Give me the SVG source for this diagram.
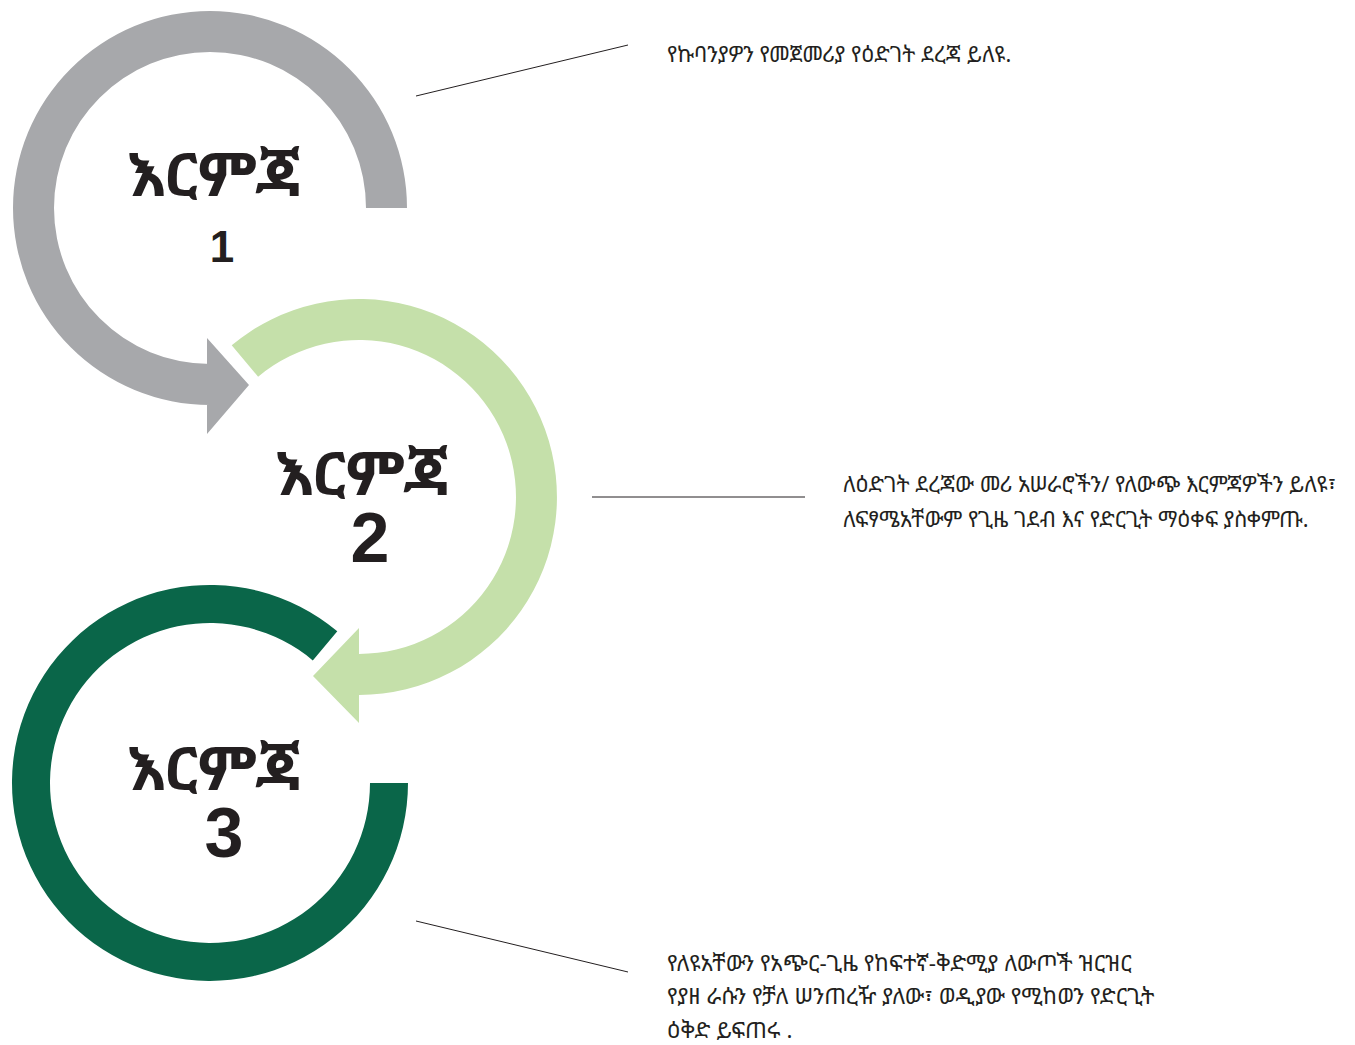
<svg xmlns="http://www.w3.org/2000/svg" width="1355" height="1045" viewBox="0 0 1355 1045">
<style>
.big{font-family:"Noto Sans Ethiopic","Abyssinica SIL","Noto Serif Ethiopic","DejaVu Sans","Noto Sans",sans-serif;font-size:60px;fill:#231f20;text-anchor:middle;font-weight:bold}
.num{font-family:"Liberation Sans","Open Sans",sans-serif;font-size:70px;font-weight:bold}
.desc{font-family:"Noto Sans Ethiopic","Abyssinica SIL","DejaVu Sans","Noto Sans",sans-serif;font-size:21.8px;fill:#231f20}
.d3{font-size:22.4px}
.ln{stroke:#231f20;stroke-width:1;fill:none}
</style>
<rect width="1355" height="1045" fill="#ffffff"/>
<g id="step1">
<path fill="#a7a8ab" d="M 407 208 A 197 197 0 1 0 210 405 L 207 405 L 207 434 L 249 385 L 207 338 L 207 364 L 210 364 A 156 156 0 1 1 366 208 Z"/>
<text class="big" x="214" y="196">እርምጃ<tspan class="num" x="222" y="262" style="font-size:44px">1</tspan></text>
</g>
<g id="step2">
<path fill="#c5e0aa" d="M 231.7 345.3 A 198 198 0 1 1 359 695 L 359 723 L 313 676 L 359 628 L 359 654 A 157 157 0 1 0 258.1 376.7 Z"/>
<text class="big" x="362" y="495">እርምጃ<tspan class="num" x="370" y="562">2</tspan></text>
</g>
<g id="step3">
<path fill="#0a6649" d="M 408 783 A 198 198 0 1 1 337.3 631.3 L 312.8 660.4 A 160 160 0 1 0 370 783 Z"/>
<text class="big" x="214" y="790">እርምጃ<tspan class="num" x="224" y="857">3</tspan></text>
</g>
<g id="connectors">
<line class="ln" x1="416" y1="96" x2="628" y2="45"/>
<line class="ln" x1="592" y1="497" x2="805" y2="497"/>
<line class="ln" x1="416" y1="921" x2="628" y2="972"/>
</g>
<g id="notes">
<text class="desc" x="667" y="62">የኩባንያዎን የመጀመሪያ የዕድገት ደረጃ ይለዩ.</text>
<text class="desc" x="843" y="492">ለዕድገት ደረጃው መሪ አሠራሮችን/ የለውጭ እርምጃዎችን ይለዩ፣</text>
<text class="desc" x="843" y="527">ለፍፃሜአቸውም የጊዜ ገደብ እና የድርጊት ማዕቀፍ ያስቀምጡ.</text>
<text class="desc d3" x="667" y="971">የለዩአቸውን የአጭር-ጊዜ የከፍተኛ-ቅድሚያ ለውጦች ዝርዝር</text>
<text class="desc d3" x="667" y="1004">የያዘ ራሱን የቻለ ሠንጠረዥ ያለው፣ ወዲያው የሚከወን የድርጊት</text>
<text class="desc d3" x="667" y="1038">ዕቅድ ይፍጠሩ .</text>
</g>
</svg>
